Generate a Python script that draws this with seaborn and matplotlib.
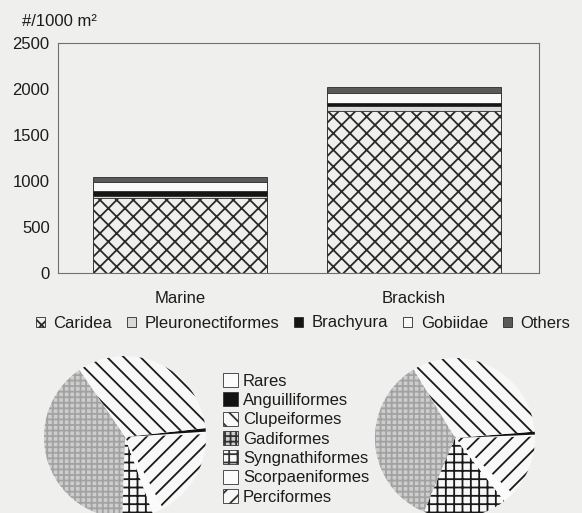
import matplotlib
matplotlib.use("Agg")
import matplotlib.pyplot as plt
import matplotlib.patches as mpatches
import numpy as np
import pandas as pd
import seaborn as sns

# stacked bar data (#/1000 m2)
groups = ["Marine", "Brackish"]
taxa = ["Caridea", "Pleuronectiformes", "Brachyura", "Gobiidae", "Others"]
marine = [810, 25, 55, 100, 55]
brackish = [1765, 55, 30, 110, 65]

# pie data (% of fish)
orders = ["Rares", "Anguilliformes", "Clupeiformes", "Gadiformes",
          "Syngnathiformes", "Scorpaeniformes", "Perciformes"]
marine_pie = [0.5, 0.7, 32.8, 40.0, 6.1, 2.2, 17.8]
brackish_pie = [0.4, 0.6, 32.4, 35.0, 16.9, 2.2, 12.5]

bg = "#efefed"
ink = "#1c1c1c"
sns.set_style("white")
plt.rcParams["font.family"] = ["Liberation Sans", "DejaVu Sans"]
plt.rcParams["hatch.linewidth"] = 1.3

fig = plt.figure(figsize=(5.82, 5.13), dpi=100, facecolor=bg)

# ---- stacked bars ----
bar_face = {"Caridea": bg, "Pleuronectiformes": "#d9d9d7", "Brachyura": "#151515",
            "Gobiidae": "#fafafa", "Others": "#5a5a5a"}
bar_hatch = {"Caridea": "xx"}

df = pd.DataFrame({"group": np.repeat(groups, len(taxa)),
                   "taxon": taxa * len(groups),
                   "value": marine + brackish})
df["top"] = df.groupby("group")["value"].cumsum()

ax = fig.add_axes([58 / 582, 1 - 273 / 513, 481 / 582, 230 / 513])
ax.set_facecolor(bg)
for t in reversed(taxa):
    sub = df[df["taxon"] == t]
    sns.barplot(data=sub, x="group", y="top", order=groups, color=bar_face[t],
                saturation=1, width=0.745, edgecolor="#2a2a2a", linewidth=0.6,
                hatch=bar_hatch.get(t, ""), ax=ax)

ax.set_xlim(-0.522, 1.537)
ax.set_ylim(0, 2500)
ax.set_yticks(range(0, 2501, 500))
ax.set_xlabel("")
ax.set_ylabel("")
for s in ax.spines.values():
    s.set_visible(True)
    s.set_color("#707070")
    s.set_linewidth(0.8)
ax.tick_params(axis="y", direction="in", length=5, color="#707070",
               labelsize=12, labelcolor=ink, pad=6)
ax.tick_params(axis="x", length=0, labelsize=12, labelcolor=ink, pad=13)
fig.text(22 / 582, 1 - 22 / 513, "#/1000 m\u00b2", fontsize=12, color=ink,
         ha="left", va="center")

bar_handles = [mpatches.Patch(facecolor=bar_face[t], edgecolor="#2a2a2a", linewidth=0.6,
                              hatch=bar_hatch.get(t, ""), label=t) for t in taxa]
fig.legend(handles=bar_handles, loc="center", bbox_to_anchor=(303 / 582, 1 - 323 / 513),
           ncol=5, frameon=False, fontsize=12, handlelength=0.55, handleheight=0.55,
           handletextpad=0.5, columnspacing=0.9, borderpad=0, labelcolor=ink)

# ---- pies ----
pie_face = {"Rares": "#fbfbfb", "Anguilliformes": "#111111", "Clupeiformes": "#f8f8f8",
            "Gadiformes": "#cdcdcd", "Syngnathiformes": "#f8f8f8",
            "Scorpaeniformes": "#fbfbfb", "Perciformes": "#f8f8f8"}
pie_hatch = {"Clupeiformes": "\\\\", "Gadiformes": "+++", "Syngnathiformes": "++",
             "Perciformes": "//"}
pie_edge = {"Gadiformes": "#a2a2a2"}


def draw_pie(rect, values, start):
    pax = fig.add_axes(rect)
    wedges, _ = pax.pie(values, startangle=start, counterclock=True,
                        colors=[pie_face[o] for o in orders],
                        wedgeprops=dict(linewidth=0))
    for w, o in zip(wedges, orders):
        w.set_edgecolor(pie_edge.get(o, "#1a1a1a"))
        w.set_hatch(pie_hatch.get(o, ""))
        w.set_linewidth(0)
    pax.set_xlim(-1, 1)
    pax.set_ylim(-1, 1)
    pax.axis("off")


draw_pie([44 / 582, -5 / 513, 162 / 582, 162 / 513], marine_pie, 2)
draw_pie([375 / 582, -5 / 513, 160 / 582, 160 / 513], brackish_pie, 1)

pie_handles = [mpatches.Patch(facecolor=pie_face[o], edgecolor="#333333", linewidth=0.6,
                              hatch=pie_hatch.get(o, ""), label=o) for o in orders]
fig.legend(handles=pie_handles, loc="upper left", bbox_to_anchor=(223 / 582, 1 - 373 / 513),
           frameon=False, fontsize=12, handlelength=0.9, handleheight=0.9,
           handletextpad=0.3, labelspacing=0.22, borderpad=0, borderaxespad=0,
           labelcolor=ink)

fig.savefig("out.png", dpi=100, facecolor=bg)
plt.close(fig)
